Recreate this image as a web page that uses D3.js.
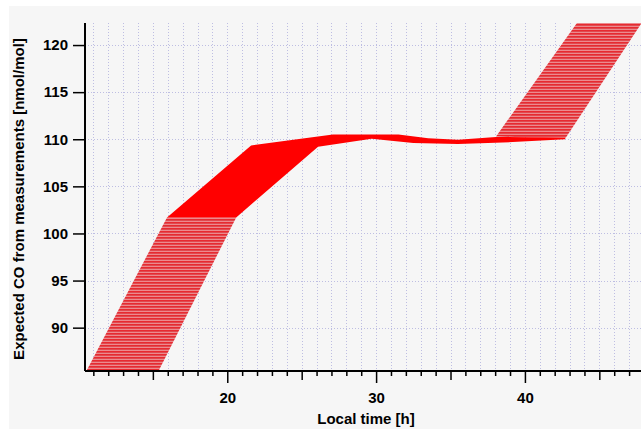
<!DOCTYPE html>
<html><head><meta charset="utf-8">
<script src="https://cdn.jsdelivr.net/npm/d3@7"></script>
<style>body{margin:0;background:#fff;}svg{display:block;}</style>
</head><body>
<svg id="c" width="641" height="429"></svg>
<script>
// ---- data ----
const xDomain = [10.44, 47.8];
const yDomain = [85.4, 122.34];
const xLabelTicks = [20, 30, 40];
const xMidTicks = [15, 25, 35, 45];
const xMinorTicks = [11,12,13,14,16,17,18,19,21,22,23,24,26,27,28,29,31,32,33,34,36,37,38,39,41,42,43,44,46,47];
const yTicks = [90, 95, 100, 105, 110, 115, 120];
// solid band (time, CO)
const upperT = [15.95, 21.6, 27.1, 31.5, 33.5, 35.5, 38.06, 42.7];
const upperV = [101.7, 109.35, 110.5, 110.5, 110.1, 109.95, 110.25, 110.15];
const lowerT = [20.6, 26.1, 29.7, 32.5, 35.5, 38.5, 42.7];
const lowerV = [101.7, 109.2, 110.05, 109.6, 109.5, 109.65, 110.0];
// hatched (extrapolated) parts
const hatchLeftT = [10.5, 15.95, 20.6, 15.35];
const hatchLeftV = [85.3, 101.7, 101.7, 85.3];
const hatchRightT = [38.06, 43.5, 47.85, 42.7];
const hatchRightV = [110.3, 122.35, 122.35, 110.05];

const svg = d3.select('#c');
const L = 85, R = 641, T = 23, B = 371;
const x = d3.scaleLinear().domain(xDomain).range([L, R]);
const y = d3.scaleLinear().domain(yDomain).range([B, T]);

svg.append('rect').attr('x', 9).attr('y', 6).attr('width', 632).attr('height', 423).attr('fill', '#f6f6f6');

const defs = svg.append('defs');
defs.append('clipPath').attr('id', 'clip').append('rect')
  .attr('x', L).attr('y', T).attr('width', R - L).attr('height', B - T);
const pat = defs.append('pattern').attr('id', 'hatch').attr('patternUnits', 'userSpaceOnUse')
  .attr('width', 8).attr('height', 3);
pat.append('rect').attr('width', 8).attr('height', 3).attr('fill', '#df4a50');
pat.append('rect').attr('y', 0).attr('width', 8).attr('height', 1).attr('fill', '#e82a30');
pat.append('rect').attr('y', 2).attr('width', 8).attr('height', 1).attr('fill', '#ec8a8e');

// grid
const grid = svg.append('g').attr('stroke', '#bebee2').attr('stroke-width', 1).attr('stroke-dasharray', '1,2');
xLabelTicks.concat(xMidTicks, xMinorTicks).forEach(t => {
  grid.append('line').attr('x1', Math.round(x(t)) + 0.5).attr('x2', Math.round(x(t)) + 0.5).attr('y1', T).attr('y2', B);
});
yTicks.forEach(v => {
  grid.append('line').attr('y1', Math.round(y(v)) + 0.5).attr('y2', Math.round(y(v)) + 0.5).attr('x1', L).attr('x2', R);
});

const plot = svg.append('g').attr('clip-path', 'url(#clip)');
const poly = d3.line().x(d => x(d[0])).y(d => y(d[1])).curve(d3.curveLinearClosed);
const zip = (a, b) => a.map((t, i) => [t, b[i]]);

plot.append('path').attr('d', poly(zip(hatchLeftT, hatchLeftV))).attr('fill', 'url(#hatch)');
plot.append('path').attr('d', poly(zip(hatchRightT, hatchRightV))).attr('fill', 'url(#hatch)');
const band = zip(upperT, upperV).concat(zip(lowerT, lowerV).reverse());
plot.append('path').attr('d', poly(band)).attr('fill', '#ff0000');

// axes
const font = '"Liberation Sans", Arial, sans-serif';
const gx = svg.append('g').attr('transform', `translate(0,${B})`);
gx.append('g').call(d3.axisBottom(x).tickValues(xMinorTicks).tickSize(5).tickFormat(''));
gx.append('g').call(d3.axisBottom(x).tickValues(xMidTicks).tickSize(9).tickFormat(''));
gx.append('g').call(d3.axisBottom(x).tickValues(xLabelTicks).tickSize(12).tickPadding(9).tickFormat(d3.format('d')));
gx.selectAll('.domain').remove();
gx.selectAll('line').attr('stroke', '#000').attr('stroke-width', 1.5);
gx.selectAll('text').attr('font-family', font).attr('font-size', 15).attr('font-weight', 'bold').attr('fill', '#000');
svg.append('line').attr('x1', L).attr('x2', R).attr('y1', B).attr('y2', B).attr('stroke', '#000').attr('stroke-width', 2);

const gy = svg.append('g').attr('transform', `translate(${L},0)`);
gy.call(d3.axisLeft(y).tickValues(yTicks).tickSize(12).tickPadding(5).tickFormat(d3.format('d')));
gy.select('.domain').remove();
gy.selectAll('line').attr('stroke', '#000').attr('stroke-width', 1.5);
gy.selectAll('text').attr('font-family', font).attr('font-size', 15).attr('font-weight', 'bold').attr('fill', '#000');
svg.append('line').attr('x1', L).attr('x2', L).attr('y1', T).attr('y2', B).attr('stroke', '#000').attr('stroke-width', 2);

svg.append('text').attr('x', 366).attr('y', 424).attr('text-anchor', 'middle')
  .attr('font-family', font).attr('font-size', 15).attr('font-weight', 'bold').text('Local time [h]');
svg.append('text').attr('transform', 'translate(24,199) rotate(-90)').attr('text-anchor', 'middle')
  .attr('font-family', font).attr('font-size', 15).attr('font-weight', 'bold')
  .text('Expected CO from measurements [nmol/mol]');
</script>
</body></html>
